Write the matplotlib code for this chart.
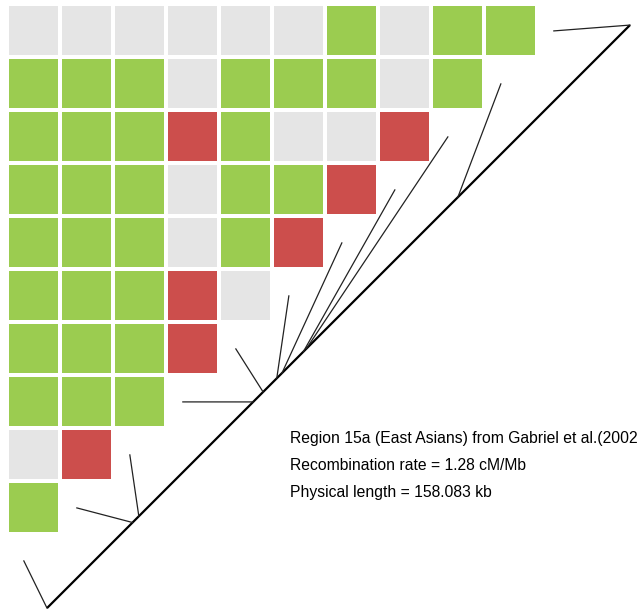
import numpy as np
import matplotlib
matplotlib.use("Agg")
import matplotlib.pyplot as plt
from matplotlib.patches import Rectangle

# LD triangle: row r holds 10 - r cells (g = grey, G = green, R = red)
ld_rows = [
    "ggggggGgGG",
    "GGGgGGGgG",
    "GGGRGggR",
    "GGGgGGR",
    "GGGgGR",
    "GGGRg",
    "GGGR",
    "GGG",
    "gR",
    "G",
]
colours = {"g": "#e5e5e5", "G": "#9bcc50", "R": "#cc4e4c"}

# marker positions along the region (kb)
marker_kb = [0.0, 23.2, 24.9, 55.9, 58.6, 62.3, 63.7, 69.5, 70.3, 111.4, 158.083]
region_kb = 158.083

text_lines = [
    "Region 15a (East Asians) from Gabriel et al.(2002)",
    "Recombination rate = 1.28 cM/Mb",
    "Physical length = 158.083 kb",
]

fig = plt.figure(figsize=(6.37, 6.13), dpi=100)
ax = fig.add_axes([0, 0, 1, 1])
ax.set_xlim(-9 / 53, 628 / 53)
ax.set_ylim(607 / 53, -6 / 53)
ax.axis("off")

cell = 49 / 53
for r, row in enumerate(ld_rows):
    for c, key in enumerate(row):
        ax.add_patch(Rectangle((c, r), cell, cell, facecolor=colours[key],
                               edgecolor="none"))

# physical map line
start = np.array([0.717, 11.36])
end = np.array([11.717, 0.36])
ax.plot([start[0], end[0]], [start[1], end[1]], color="black", lw=1.6,
        solid_capstyle="butt")

# connector from each marker to the triangle
for k, kb in enumerate(marker_kb):
    p = start + (end - start) * kb / region_kb
    q = (k + 0.28, 10.47 - k)
    ax.plot([p[0], q[0]], [p[1], q[1]], color="#222222", lw=0.9)

for i, line in enumerate(text_lines):
    ax.text(5.30, 8.25 + 0.51 * i, line, fontsize=11.3,
            family="Liberation Sans", va="baseline", ha="left")

plt.savefig("out.png", dpi=100)
